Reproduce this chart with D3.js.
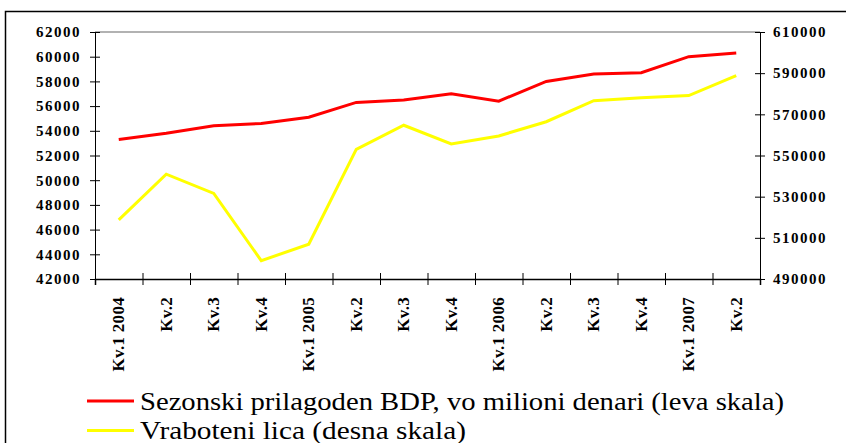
<!DOCTYPE html>
<meta charset="utf-8">
<style>
body { margin: 0; background: #fff; }
svg { display: block; }
svg text { font-family: "Liberation Serif", "DejaVu Serif", serif; }
.axis text { font-weight: bold; font-size: 15px; letter-spacing: 1.5px; fill: #000; }
.axis .domain, .axis line { stroke: #000; }
.xlab { font-weight: bold; font-size: 17px; letter-spacing: 0.3px; }
.legend text { font-size: 25px; }
</style>
<svg width="846" height="443"></svg>
<script src="https://d3js.org/d3.v7.min.js"></script>
<script>
// kvartali
var quarters = ["Kv.1 2004", "Kv.2", "Kv.3", "Kv.4", "Kv.1 2005", "Kv.2", "Kv.3", "Kv.4",
                "Kv.1 2006", "Kv.2", "Kv.3", "Kv.4", "Kv.1 2007", "Kv.2"];
// BDP, milioni denari (leva skala)
var gdp = [53300, 53800, 54400, 54600, 55100, 56300, 56500, 57000,
           56400, 58000, 58600, 58700, 60000, 60300];
// vraboteni lica (desna skala)
var employed = [518700, 540900, 531600, 498900, 506900, 553000, 564700, 555600,
                559500, 566400, 576600, 578100, 579100, 588800];
var leftTicks = [42000, 44000, 46000, 48000, 50000, 52000, 54000, 56000, 58000, 60000, 62000];
var rightTicks = [490000, 510000, 530000, 550000, 570000, 590000, 610000];
var legendLabels = ["Sezonski prilagoden BDP, vo milioni denari (leva skala)",
                    "Vraboteni lica (desna skala)"];

var svg = d3.select("svg");
var pLeft = 95, pRight = 760, pTop = 32, pBottom = 279;

var x = d3.scaleBand().domain(d3.range(quarters.length)).range([pLeft, pRight]);
var xEdge = d3.scaleLinear().domain([0, quarters.length]).range([pLeft, pRight]);
var yL = d3.scaleLinear().domain([42000, 62000]).range([pBottom, pTop]);
var yR = d3.scaleLinear().domain([490000, 610000]).range([pBottom, pTop]);

// okvir
svg.append("path")
    .attr("d", "M5.5,450V11.5H850")
    .attr("fill", "none").attr("stroke", "#000").attr("stroke-width", 1.5);

// gornja linija
svg.append("line")
    .attr("x1", pLeft).attr("x2", pRight).attr("y1", pTop).attr("y2", pTop)
    .attr("stroke", "#999").attr("stroke-width", 1.5);

var gL = svg.append("g").attr("class", "axis")
    .attr("transform", "translate(" + pLeft + ",0)")
    .call(d3.axisLeft(yL).tickValues(leftTicks).tickSize(5).tickPadding(9).tickFormat(d3.format("d")));
gL.selectAll(".tick line").attr("x1", 5).attr("x2", -5);

var gR = svg.append("g").attr("class", "axis")
    .attr("transform", "translate(" + pRight + ",0)")
    .call(d3.axisRight(yR).tickValues(rightTicks).tickSize(5).tickPadding(8).tickFormat(d3.format("d")));
gR.selectAll(".tick line").attr("x1", -5).attr("x2", 5);

var gB = svg.append("g").attr("class", "axis")
    .attr("transform", "translate(0," + pBottom + ")")
    .call(d3.axisBottom(xEdge).tickValues(d3.range(quarters.length + 1)).tickSize(6).tickFormat(""));
gB.selectAll(".tick line").attr("y1", -6).attr("y2", 6);
gB.select(".domain").attr("stroke-width", 1.5);

svg.selectAll(".xlab")
    .data(quarters)
    .enter().append("text")
    .attr("class", "xlab")
    .attr("text-anchor", "end")
    .attr("transform", function(d, i) {
        return "translate(" + (x(i) + x.bandwidth() / 2 + 5.5) + ",297) rotate(-90)";
    })
    .text(function(d) { return d; });

var lineL = d3.line()
    .x(function(d, i) { return x(i) + x.bandwidth() / 2; })
    .y(function(d) { return yL(d); });
var lineR = d3.line()
    .x(function(d, i) { return x(i) + x.bandwidth() / 2; })
    .y(function(d) { return yR(d); });

svg.append("path").datum(employed)
    .attr("d", lineR).attr("fill", "none")
    .attr("stroke", "#ffff00").attr("stroke-width", 3);
svg.append("path").datum(gdp)
    .attr("d", lineL).attr("fill", "none")
    .attr("stroke", "#ff0000").attr("stroke-width", 3);

// legenda
var legend = svg.append("g").attr("class", "legend");
var legColors = ["#ff0000", "#ffff00"];
var legLens = [644, 326];
legendLabels.forEach(function(t, i) {
    var y = 401 + i * 29.5;
    legend.append("line")
        .attr("x1", 87).attr("x2", 134).attr("y1", y).attr("y2", y)
        .attr("stroke", legColors[i]).attr("stroke-width", 3);
    legend.append("text")
        .attr("x", 140).attr("y", y + 8.5)
        .attr("textLength", legLens[i]).attr("lengthAdjust", "spacingAndGlyphs")
        .text(t);
});
</script>
